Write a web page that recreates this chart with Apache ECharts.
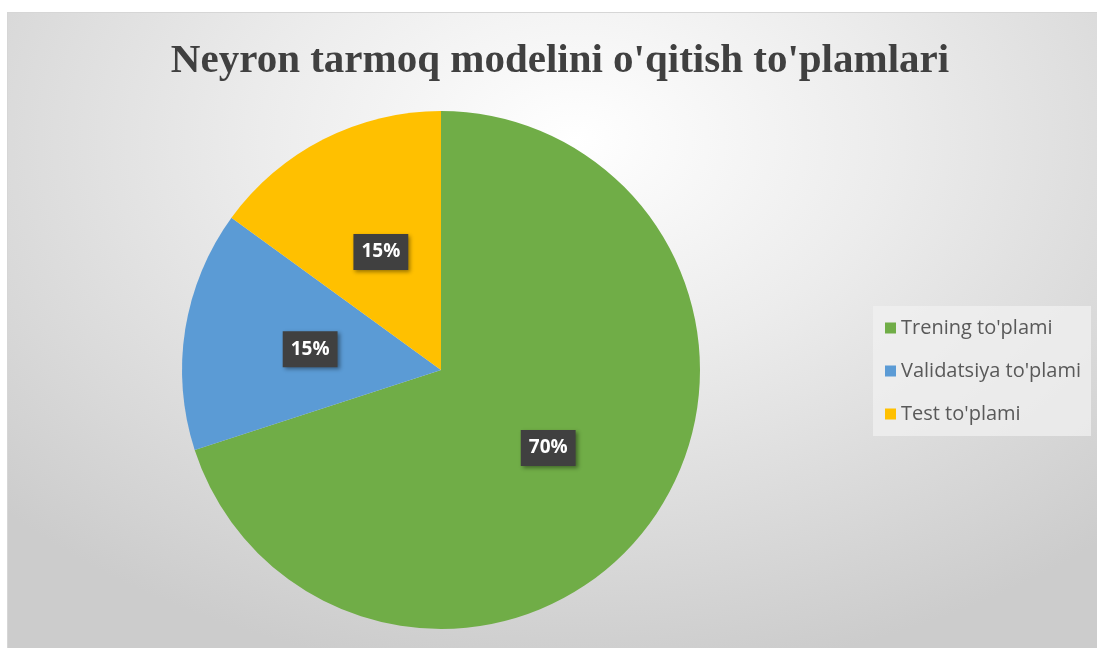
<!DOCTYPE html>
<html>
<head>
<meta charset="utf-8">
<script src="https://cdn.jsdelivr.net/npm/echarts@6/dist/echarts.min.js"></script>
<style>
  html, body { margin: 0; padding: 0; background: #fff; }
  #wrap {
    position: absolute; left: 7px; top: 12px; width: 1090px; height: 636px;
    border-top: 1px solid #d6d6d6; border-left: 1px solid #d6d6d6;
    background: radial-gradient(ellipse 72% 85% at 52% 20%, #ffffff 0%, #ececec 40%, #cccccc 100%);
  }
  #pieChart { width: 100%; height: 100%; }
</style>
</head>
<body>
<div id="wrap"><div id="pieChart"></div></div>
<script>
const titleText = "Neyron tarmoq modelini o'qitish to'plamlari"
const categories = ["Trening to'plami", "Validatsiya to'plami", "Test to'plami"]
const values = [70, 15, 15]
const colors = ['#70ad47', '#5b9bd5', '#ffc000']

const myChart = echarts.init(document.getElementById('pieChart'))
const option = {
  title: {
    text: titleText,
    left: 547,
    top: 23,
    textAlign: 'center',
    textStyle: {
      fontFamily: 'Liberation Serif',
      fontSize: 41,
      fontWeight: 'bold',
      color: '#404040'
    }
  },
  legend: {
    orient: 'vertical',
    left: 865,
    top: 293,
    itemWidth: 11,
    itemHeight: 11,
    itemGap: 23,
    icon: 'rect',
    padding: [12, 10, 12, 12],
    backgroundColor: 'rgba(240,240,240,0.75)',
    data: categories,
    textStyle: {
      fontFamily: 'Open Sans',
      fontSize: 20,
      color: '#595959'
    }
  },
  series: [
    {
      type: 'pie',
      center: [433, 357],
      radius: 259,
      startAngle: 90,
      clockwise: true,
      avoidLabelOverlap: false,
      data: categories.map((name, i) => ({
        name: name,
        value: values[i],
        itemStyle: { color: colors[i] }
      })),
      label: {
        position: 'inside',
        formatter: p => p.value + '%',
        fontFamily: 'Open Sans',
        fontSize: 19,
        fontWeight: 'bold',
        color: '#ffffff',
        backgroundColor: '#404040',
        padding: [9, 8, 8, 8],
        shadowColor: 'rgba(0,0,0,0.4)',
        shadowBlur: 4,
        shadowOffsetX: 2,
        shadowOffsetY: 2
      },
      labelLine: { show: false },
      emphasis: { disabled: true }
    }
  ]
}
myChart.setOption(option)
</script>
</body>
</html>
